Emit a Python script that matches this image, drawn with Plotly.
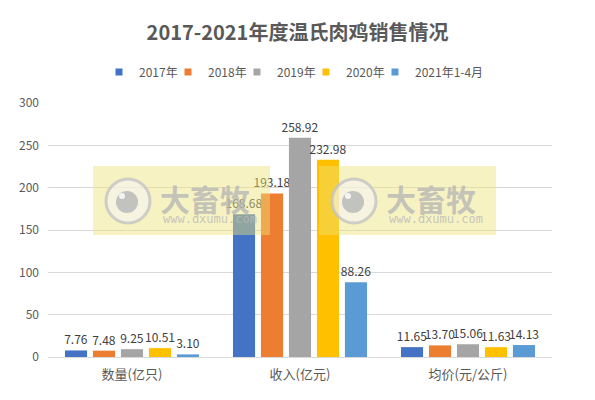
import plotly.graph_objects as go

# data
categories = ["数量(亿只)", "收入(亿元)", "均价(元/公斤)"]
series_names = ["2017年", "2018年", "2019年", "2020年", "2021年1-4月"]
v2017 = [7.76, 168.68, 11.65]
v2018 = [7.48, 193.18, 13.70]
v2019 = [9.25, 258.92, 15.06]
v2020 = [10.51, 232.98, 11.63]
v2021 = [3.10, 88.26, 14.13]
series_values = [v2017, v2018, v2019, v2020, v2021]
colors = ["#4472C4", "#ED7D31", "#A5A5A5", "#FFC000", "#5B9BD5"]

FONT = "Noto Sans CJK SC"
W, H = 595, 400
# plot area in pixels
L, R, T, B = 48, 552, 103, 357

def px(x):
    return (x - L) / (R - L)

def py(y):
    return (B - y) / (B - T)

fig = go.Figure()
legend_layout = {}
for i, (name, vals, col) in enumerate(zip(series_names, series_values, colors)):
    fig.add_trace(go.Bar(
        x=categories, y=vals, name=name, showlegend=False,
        marker=dict(color=col, line=dict(width=0)),
        texttemplate="%{y:.2f}", textposition="outside", constraintext="none",
        textfont=dict(family=FONT, size=12, color="#404040"),
        cliponaxis=False,
    ))
    # legend entry with a small square, one legend per series so entries sit 69px apart
    lg = "legend" if i == 0 else "legend%d" % (i + 1)
    fig.add_trace(go.Scatter(
        x=[None], y=[None], mode="markers", name=name, legend=lg, showlegend=True,
        marker=dict(symbol="square", size=7, color=col),
    ))
    legend_layout[lg] = dict(orientation="h", x=px(99 + 69 * i), xanchor="left",
                             y=py(72), yanchor="middle", bgcolor="rgba(0,0,0,0)",
                             font=dict(family=FONT, size=12, color="#595959"),
                             itemwidth=30)

# watermark boxes ("大畜牧 www.dxumu.com") lying over the chart
shapes = []
annotations = []
for x0 in [93, 319]:
    x1 = x0 + 177
    shapes.append(dict(type="rect", xref="paper", yref="paper",
                       x0=px(x0), x1=px(x1), y0=py(235), y1=py(166),
                       fillcolor="rgba(238,226,120,0.45)", line=dict(width=0), layer="above"))
    cx, cy = x0 + 35, 201
    shapes.append(dict(type="circle", xref="paper", yref="paper",
                       x0=px(cx - 22), x1=px(cx + 22), y0=py(cy + 22), y1=py(cy - 22),
                       fillcolor="rgba(245,245,245,0.6)", line=dict(color="rgba(195,195,195,0.8)", width=3),
                       layer="above"))
    shapes.append(dict(type="circle", xref="paper", yref="paper",
                       x0=px(cx - 12), x1=px(cx + 10), y0=py(cy + 12), y1=py(cy - 10),
                       fillcolor="rgba(185,185,185,0.85)", line=dict(width=0), layer="above"))
    shapes.append(dict(type="circle", xref="paper", yref="paper",
                       x0=px(cx - 9), x1=px(cx - 3), y0=py(cy - 2), y1=py(cy - 8),
                       fillcolor="rgba(250,250,250,0.9)", line=dict(width=0), layer="above"))
    annotations.append(dict(text="<b>大畜牧</b>", xref="paper", yref="paper",
                            x=px(x0 + 112), y=py(198), xanchor="center", yanchor="middle",
                            showarrow=False,
                            font=dict(family=FONT, size=30, color="rgba(180,180,180,0.75)")))
    annotations.append(dict(text="www.dxumu.com", xref="paper", yref="paper",
                            x=px(x0 + 117), y=py(219), xanchor="center", yanchor="middle",
                            showarrow=False,
                            font=dict(family="DejaVu Sans Mono", size=12, color="rgba(185,185,185,0.8)")))

fig.update_layout(
    width=W, height=H,
    margin=dict(l=L, r=W - R, t=T, b=H - B, autoexpand=False),
    paper_bgcolor="white", plot_bgcolor="white",
    showlegend=True,
    barmode="group", bargap=0.167, bargroupgap=0.21,
    title=dict(text="<b>2017-2021年度温氏肉鸡销售情况</b>", x=0.5, xanchor="center",
               y=1 - 33 / H, yanchor="middle",
               font=dict(family=FONT, size=20, color="#595959")),
    xaxis=dict(showgrid=False, showline=False, ticks="", automargin=False, ticklabelstandoff=8,
               tickfont=dict(family=FONT, size=13, color="#595959")),
    yaxis=dict(range=[0, 300], dtick=50, showgrid=True, gridcolor="#D9D9D9", gridwidth=1,
               zeroline=True, zerolinecolor="#D9D9D9", zerolinewidth=1, showline=False,
               ticks="", ticklabelstandoff=8, automargin=False,
               tickfont=dict(family=FONT, size=12, color="#595959")),
    shapes=shapes, annotations=annotations,
    font=dict(family=FONT),
    **legend_layout,
)

fig.write_html("out.html", config={"displayModeBar": False},
               post_script="document.body.style.margin='0';")
